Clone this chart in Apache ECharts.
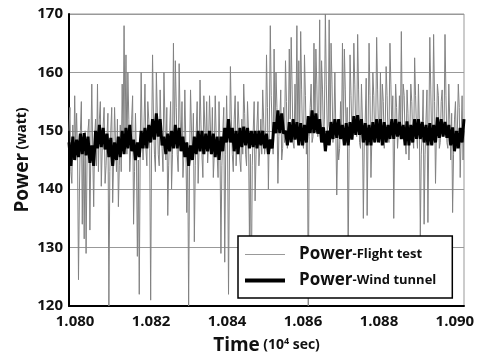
<!DOCTYPE html>
<html>
<head>
<meta charset="utf-8">
<script src="https://cdn.jsdelivr.net/npm/echarts@6/dist/echarts.min.js"></script>
<style>
html,body{margin:0;padding:0;background:#fff;}
#chart{width:482px;height:354px;}
</style>
</head>
<body>
<div id="chart"></div>
<script>
// Sampling grids (10^4 sec)
var timeStart = 1.07984;
var flightStep = 0.000025;
var windStep = 0.00005;
var xTickValues = [1.080, 1.082, 1.084, 1.086, 1.088, 1.090];
var yTickValues = [120, 130, 140, 150, 160, 170];

// Power - Flight test (watt)
var flightTest = [
150,154,143,141,151,145,156,147,153,146,124.5,140,150,155,134,149,131.5,150,129,145,
150,152,133,147,158,146,137,149,152,144,158,143,152,155,140.5,147,151,154,141,144,
149,153,120,143,150,154,137.7,145,154,148,143,152,137,144,151,143,158,148,168,150,
163,146,160,152,143,147,152,156,134,143,153,146,128.5,145,122,147,160,149,145,151,
158,147,144,155,152,147,121,148,163,152,146,143,160,153,146,144,157,150,147,143,
160,152,145,154,135.5,144,150,155,140,146,165,148,162,154,146,143,161.5,152,147,155,
142,146,157,148,136,147,120,145,157,150,145,153,131,144,150,155,141,147,158.7,151,
146,142,156,151,147,155,144.5,148,156,150,146,154,142,146,156,149,146,142,155,147,
129,144,150,154,127.5,146,156,148,122,145,161,152,146,143,152,156,144,148,155,151,
145,143,152,146,158,153,146,144,155,150,132,146,121.5,144,150,155,138,146,151,155,
144,147,152,146,157,152,146,148,163,154,140,151,168,156,150,146,164,150,160,154,
141,149,152,157,145,147,154,148,162,155,147,150,164,152,166,157,148,147,158,151,
168,149,162,150,167,157,148,147,163,156,146,152,120,149,154,158,148,149,165,150,
164,158,149,153,169,149,162,157,148,152,170,158,150,151,169,149,165,158,148,151,
160,150,139,149,145,147,155,149,165,150,164,157,148,154,128,147,163,156,149,152,
165,158,150,149,166.5,157,148,147,158,152,135,148,152,159,135.5,150,165,156,142,149,
160,156,148,150,166,157,150,148,160,149,158,155,147,150,161,156,149,148,165,158,
150,156,135,149,158,154,147,150,156,149,167,151,158,156,148,146,157,153,145,150,
158,155,149,147,162.5,156,150,147,158,151,132,146,150,157,134,146,152,157,134.3,150,
166,157,148,151,166.5,155,141,150,158,156,147,148,155,157,149,150,166.5,156,148,147,
158,152,145,153,136,146,152,155,147,150,158,154,142,149,156,145,150
];

// Power - Wind tunnel (watt)
var windTunnel = [
148,144,149,145,148.5,145.5,149.5,146,149.6,145.8,
149,144.5,147.5,144,150,147,151,147.2,150.5,146.8,
149.5,145.5,148.8,144,148,145,149,145.5,150,146,
150.5,147,151,146.5,148.5,145,148,145.5,150,147,
150.5,147,151,148,152,148.5,153,149,152,147.5,
149,146,149.5,146.5,150,147,151,147,150.5,146.5,
149,145.5,148,144,147.5,145,149,146,150,146.5,
150,146,149.5,146.5,150,146,149.5,145.5,149,145,
149,146.5,150.5,148,152,148,150.5,146.5,150,146,
150.5,147.2,150.7,147.5,150.5,147,150,147.2,150,147,
150,147.5,150,147,149.5,146,148.5,147,151.5,149.6,
153.5,149.6,153,149.5,150,147.5,151.5,148,152,148.5,
151.5,147.5,151.3,147.5,151,148,152.5,149.6,153.5,149.6,
153,149.5,152,148,150.6,146.5,150,147.5,151.5,148.6,
152,148.8,152,148.6,151,147.5,151.3,147.5,151.5,148.5,
152.5,149.3,152.7,149.3,152,148,151.3,147.5,151,147.5,
151.5,148,152,148,152,147.5,151.5,148,151,148.6,
152,148.6,152,149,151.5,148.6,151,147.5,151.6,147.5,
151,148,152,148.6,152,148.6,151.5,148,151,147.5,
151.3,147.5,151,148,152.3,148.8,152,149,151.5,148.8,
151,147.5,150.6,146.5,150,147,150.5,148,152
];

function toPairs(arr, step){
  var out = [];
  for (var i = 0; i < arr.length; i++) out.push([timeStart + i * step, arr[i]]);
  return out;
}

var FONT = 'Open Sans';
var chart = echarts.init(document.getElementById('chart'), null, {renderer:'canvas'});
chart.setOption({
  animation: false,
  backgroundColor: '#fff',
  grid: {left: 69, right: 18, top: 14, bottom: 48, show: true, borderColor: '#999', borderWidth: 1,
         containLabel: false, outerBoundsMode: 'none'},
  xAxis: {
    type: 'value',
    min: 1.07984, max: 1.09024,
    name: '{b|Time} {s|(10}{sup|4}{s| sec)}',
    nameLocation: 'middle',
    nameGap: 30,
    nameMoveOverlap: false,
    nameTextStyle: {
      color: '#111',
      verticalAlign: 'top',
      rich: {
        b: {fontFamily: FONT, fontSize: 19, fontWeight: 'bold', color: '#111'},
        s: {fontFamily: FONT, fontSize: 14, fontWeight: 'bold', color: '#111'},
        sup: {fontFamily: FONT, fontSize: 9, fontWeight: 'bold', color: '#111', padding: [0,0,9,0]}
      }
    },
    axisLine: {show: true, lineStyle: {color: '#000', width: 2}},
    axisTick: {show: false},
    splitLine: {show: false},
    axisLabel: {
      customValues: xTickValues,
      formatter: function(v){ return v.toFixed(3); },
      fontFamily: FONT, fontSize: 15, fontWeight: 'bold', color: '#111', margin: 8
    }
  },
  yAxis: {
    type: 'value',
    min: 120, max: 170, interval: 10,
    name: '{b|Power} {s|(watt)}',
    nameLocation: 'middle',
    nameGap: 37,
    nameMoveOverlap: false,
    nameTextStyle: {
      rich: {
        b: {fontFamily: FONT, fontSize: 19, fontWeight: 'bold', color: '#111'},
        s: {fontFamily: FONT, fontSize: 14, fontWeight: 'bold', color: '#111'}
      }
    },
    axisLine: {show: true, lineStyle: {color: '#000', width: 2}},
    axisTick: {show: false},
    splitLine: {show: true, lineStyle: {color: '#999', width: 1}},
    axisLabel: {
      customValues: yTickValues,
      fontFamily: FONT, fontSize: 15, fontWeight: 'bold', color: '#111', margin: 6
    }
  },
  legend: {
    orient: 'vertical',
    left: 238, top: 236,
    padding: [10, 16, 9, 5],
    itemWidth: 40, itemHeight: 14, itemGap: 9,
    backgroundColor: '#fff',
    borderColor: '#000', borderWidth: 1.5, borderRadius: 0,
    formatter: function(name){
      var parts = name.split('-');
      return '{b|' + parts[0] + '}{s|-' + parts[1] + '}';
    },
    textStyle: {
      padding: [0,0,0,9],
      rich: {
        b: {fontFamily: FONT, fontSize: 17, fontWeight: 'bold', color: '#111'},
        s: {fontFamily: FONT, fontSize: 13, fontWeight: 'bold', color: '#111'}
      }
    },
    data: [
      {name: 'Power-Flight test', lineStyle: {width: 1, color: '#999'}, itemStyle: {opacity: 0, borderWidth: 0}},
      {name: 'Power-Wind tunnel', lineStyle: {width: 4, color: '#000'}, itemStyle: {opacity: 0, borderWidth: 0}}
    ]
  },
  series: [
    {
      name: 'Power-Flight test', type: 'line', symbol: 'none', z: 2,
      data: toPairs(flightTest, flightStep),
      lineStyle: {color: '#828282', width: 1},
      itemStyle: {color: '#828282'}
    },
    {
      name: 'Power-Wind tunnel', type: 'line', symbol: 'none', z: 3,
      data: toPairs(windTunnel, windStep),
      lineStyle: {color: '#000', width: 3},
      itemStyle: {color: '#000'}
    }
  ]
});
</script>
</body>
</html>
